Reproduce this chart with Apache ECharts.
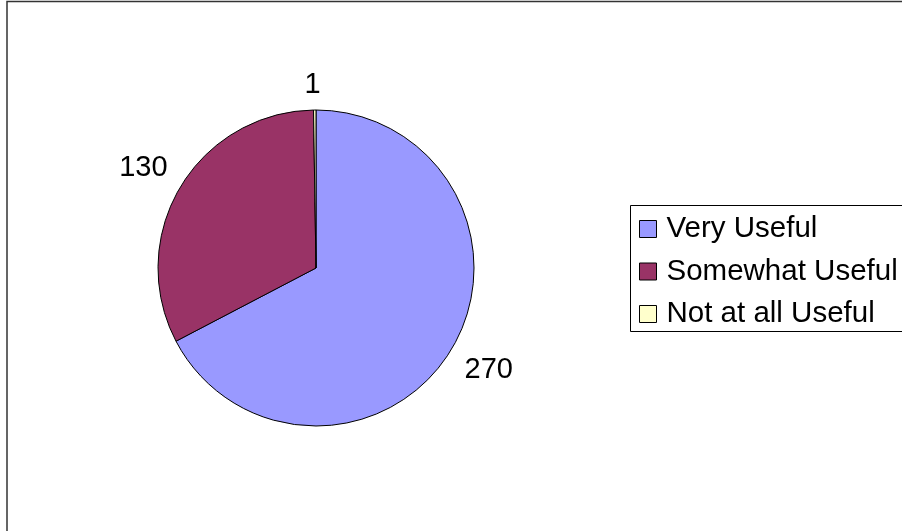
<!DOCTYPE html>
<html>
<head>
<meta charset="utf-8">
<script src="https://cdn.jsdelivr.net/npm/echarts@6/dist/echarts.min.js"></script>
<style>html,body{margin:0;padding:0;background:#fff}#c{width:902px;height:531px}</style>
</head>
<body>
<div id="c"></div>
<script>
const categories = ['Very Useful', 'Somewhat Useful', 'Not at all Useful'];
const values = [270, 130, 1];

const colors = ['#9999FF', '#993366', '#FFFFCC'];
const labelLineLen = [39, 38, 25];
const labelDist = [-20, -20, -6];

const chart = echarts.init(document.getElementById('c'), null, {renderer: 'canvas'});
const font = 'Liberation Sans, Arial, sans-serif';
chart.setOption({
  animation: false,
  backgroundColor: '#fff',
  color: colors,
  graphic: [
    {type: 'rect', shape: {x: 7, y: 1.5, width: 1000, height: 1000}, style: {fill: null, stroke: '#333', lineWidth: 1.5}, silent: true},
    {type: 'rect', shape: {x: 630.5, y: 205.5, width: 400, height: 126}, style: {fill: '#fff', stroke: '#000', lineWidth: 1}, silent: true, z: -1}
  ],
  legend: {
    orient: 'vertical',
    left: 639,
    top: 214,
    padding: 0,
    icon: 'rect',
    itemWidth: 17,
    itemHeight: 17,
    itemGap: 12.5,
    itemStyle: {borderColor: '#000', borderWidth: 1},
    textStyle: {fontFamily: font, fontSize: 29.5, color: '#000', lineHeight: 30, padding: [0, 0, 0, 5]},
    data: categories
  },
  series: [{
    type: 'pie',
    center: [316, 268],
    radius: 158,
    startAngle: 90,
    clockwise: true,
    avoidLabelOverlap: false,
    minAngle: 0,
    itemStyle: {borderColor: '#000', borderWidth: 1},
    emphasis: {disabled: true},
    label: {show: true, position: 'outside', formatter: '{c}', fontFamily: font, fontSize: 29, color: '#000'},
    labelLine: {show: false, length2: 0},
    data: categories.map((n, i) => ({
      name: n, value: values[i],
      labelLine: {length: labelLineLen[i], length2: 0, show: false},
      label: {distanceToLabelLine: labelDist[i]}
    }))
  }]
});
</script>
</body>
</html>
